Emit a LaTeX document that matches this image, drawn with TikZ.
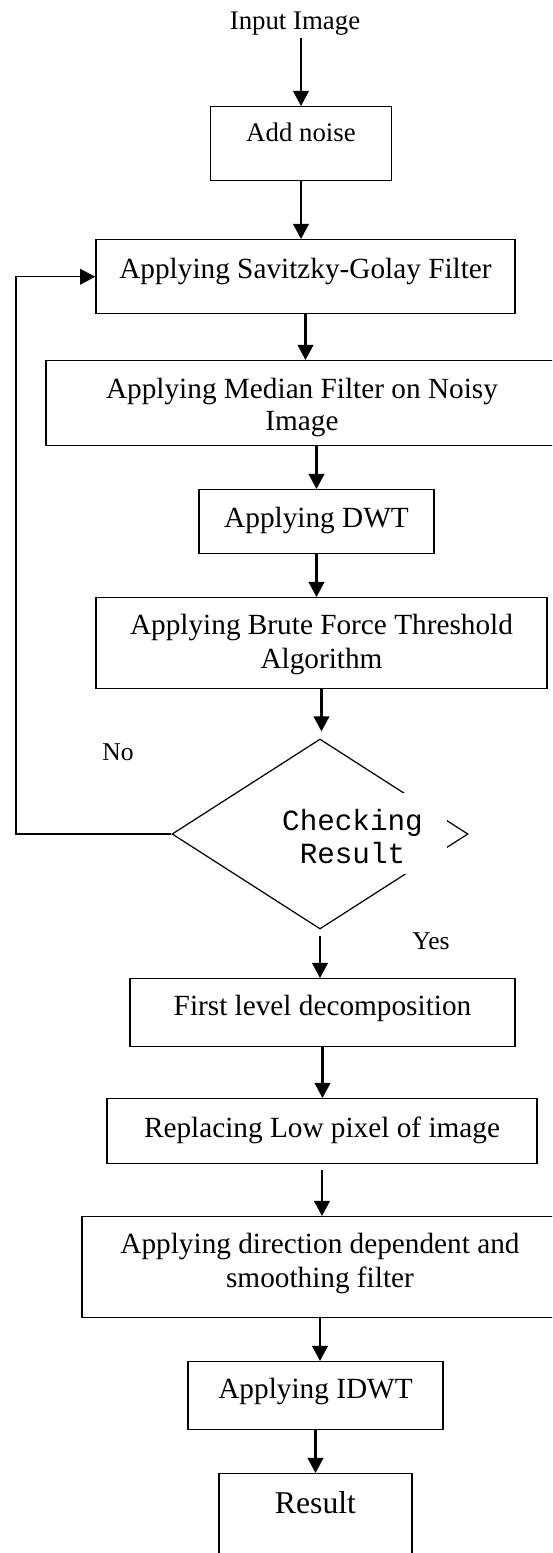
\documentclass[tikz,border=0pt]{standalone}
\usepackage{fontspec}
\setmainfont{Liberation Serif}
\newfontfamily\chkfont{Liberation Mono}
\usetikzlibrary{arrows.meta,shapes.geometric}
\newcommand{\pxu}{0.41pt}
\tikzset{
  stepbox/.style n args={3}{draw, line width=0.6pt, anchor=north, inner sep=0pt, align=center,
    font=\fontsize{12}{14}\selectfont, minimum width=#1*\pxu, text height=#2*\pxu, text depth=#3*\pxu},
  flow/.style={line width=0.9pt, -{Triangle[width=6.4pt,length=6.2pt]}},
  lbl/.style={anchor=base, inner sep=1pt, font=\fontsize{10.5}{12}\selectfont}
}
\begin{document}
\begin{tikzpicture}[x=0.41pt, y=-0.41pt]
	\useasboundingbox (0,0) rectangle (552,1553);
	\clip (0,0) rectangle (552,1553);
	
	\node[lbl, font=\fontsize{11}{13}\selectfont] (in) at (295,29) {Input Image};
	\node[stepbox={181}{35}{39}, font=\fontsize{11}{13}\selectfont] (noise) at (301,106) {Add noise};
	\node[stepbox={419}{39}{35}] (sav) at (305.5,239) {Applying Savitzky-Golay Filter};
	\node[stepbox={512}{70}{15}, font=\fontsize{12}{13.4}\selectfont] (med) at (302,360) {Applying Median Filter on Noisy\\Image};
	\node[stepbox={235}{38}{26}] (dwt) at (316.5,489) {Applying DWT};
	\node[stepbox={451}{71}{20}] (brute) at (321.5,597) {Applying Brute Force Threshold\\Algorithm};
	
	% decision
	\node[draw, diamond, line width=0.5pt, inner sep=0pt, minimum width=296*\pxu, minimum height=190*\pxu] (chk) at (320,834) {};
	\node[fill=white, anchor=north, inner sep=0pt, align=center, font=\chkfont\fontsize{12}{13.5}\selectfont,
	  minimum width=189*\pxu, text height=71*\pxu, text depth=10*\pxu] (chktxt) at (352.5,792) {Checking\\Result};
	\node[lbl] (no) at (118,760) {No};
	\node[lbl] (yes) at (431,949) {Yes};
	
	\node[stepbox={385}{37}{31}] (first) at (322.5,978) {First level decomposition};
	\node[stepbox={430}{39}{26}] (repl) at (322,1098) {Replacing Low pixel of image};
	\node[stepbox={476}{71}{30}] (dir) at (320,1216) {Applying direction dependent and\\smoothing filter};
	\node[stepbox={255}{37}{31}] (idwt) at (315.5,1361) {Applying IDWT};
	\node[stepbox={193}{40}{87}, font=\fontsize{13}{15}\selectfont] (res) at (315.5,1473) {Result};
	
	% arrows
	\draw[flow] (in.south -| noise.north) -- (noise.north);
	\draw[flow] (noise.south) -- (noise.south |- sav.north);
	\draw[flow] (sav.south) -- (sav.south |- med.north);
	\draw[flow] (dwt.north |- med.south) -- (dwt.north);
	\draw[flow] (dwt.south) -- (dwt.south |- brute.north);
	\draw[flow, shorten >=7*\pxu] (brute.south) -- (brute.south |- chk.north);
	\draw[flow, shorten <=6*\pxu] (chk.south) -- (chk.south |- first.north);
	\draw[flow] (first.south) -- (first.south |- repl.north);
	\draw[flow, shorten <=6*\pxu] (repl.south) -- (repl.south |- dir.north);
	\draw[flow] (dir.south) -- (dir.south |- idwt.north);
	\draw[flow] (idwt.south) -- (res.north);
	
	\coordinate (fb) at (16,834);
	\draw[flow, line width=0.6pt] (chk.west) -- (fb) |- (sav.west);
\end{tikzpicture}
\end{document}
